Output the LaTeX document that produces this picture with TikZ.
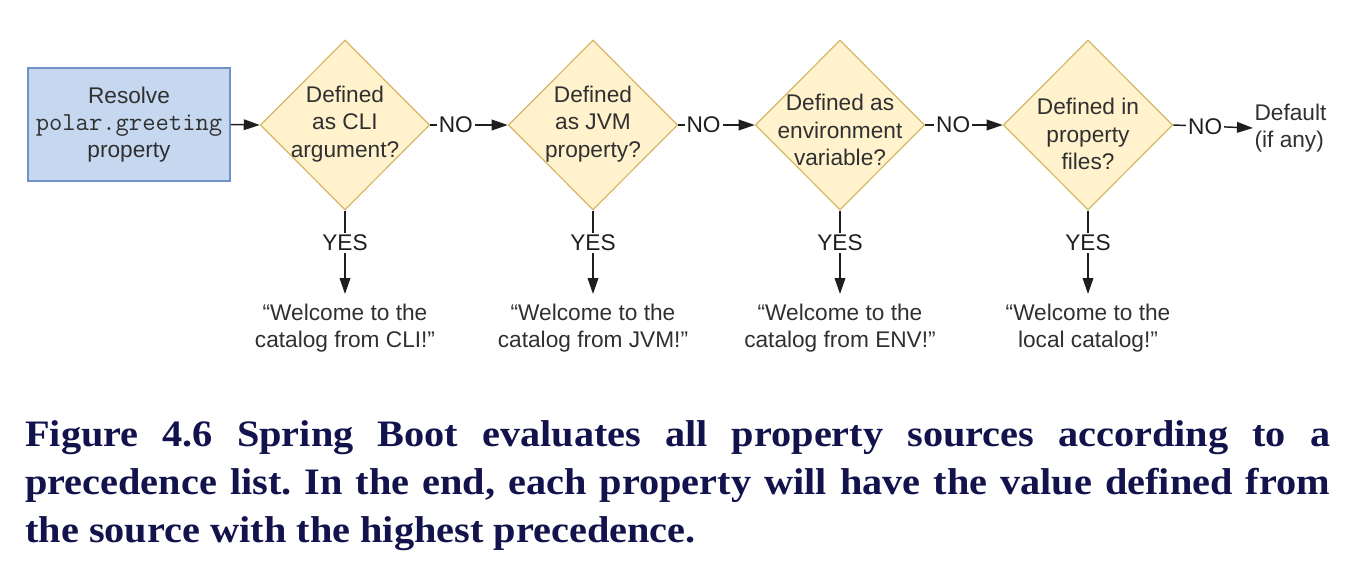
\documentclass[tikz,border=0pt]{standalone}
\usepackage{fontspec}
\setmainfont{Liberation Serif}
\setsansfont{Liberation Sans}
\newfontfamily\captionfont[FakeStretch=1.08]{Liberation Serif}
\usetikzlibrary{arrows.meta,shapes.geometric}
\definecolor{boxFill}{RGB}{198, 216, 240}
\definecolor{boxLine}{RGB}{112, 146, 200}
\definecolor{decFill}{RGB}{255, 242, 204}
\definecolor{decLine}{RGB}{214, 184, 102}
\definecolor{textCol}{RGB}{48, 48, 48}
\definecolor{arrowCol}{RGB}{30, 30, 30}
\definecolor{captionCol}{RGB}{18, 18, 76}
\newcommand{\propname}[1]{{\ttfamily\fontsize{19.4}{20.5}\selectfont #1}}

\begin{document}
\begin{tikzpicture}[
    x=0.75pt, y=-0.75pt,
    font=\sffamily\fontsize{17}{20.5}\selectfont,
    startBox/.style={draw=boxLine, fill=boxFill, line width=0.9pt,
        minimum width=151.5pt, minimum height=84.75pt, inner sep=0pt,
        align=center, text=textCol},
    decision/.style={diamond, draw=decLine, fill=decFill, line width=0.9pt,
        minimum width=127pt, minimum height=127.5pt, inner sep=0pt},
    decText/.style={align=center, text=textCol, inner sep=0pt},
    msgText/.style={align=center, text=textCol, inner sep=0pt, inner ysep=7pt},
    flowArrow/.style={-{Triangle[length=12pt, width=8pt]}, line width=1.1pt, draw=arrowCol},
    edgeLabel/.style={fill=white, inner sep=1.5pt, text=arrowCol}
]

    \useasboundingbox (0,0) rectangle (1354,572);

    % ---------------- start box ----------------
    \node[startBox] (start) at (129,124.5)
        {Resolve\\\propname{polar.greeting}\\property};

    % ---------------- decisions ----------------
    \node[decision] (cli) at (345,125) {};
    \node[decision] (jvm) at (593,125) {};
    \node[decision] (env) at (840,125) {};
    \node[decision] (file) at (1088,125) {};

    \node[decText] (cliTxt) at (345,124) {Defined\\as CLI\\argument?};
    \node[decText] (jvmTxt) at (593,124) {Defined\\as JVM\\property?};
    \node[decText] (envTxt) at (840,130) {Defined as\\environment\\variable?};
    \node[decText] (fileTxt) at (1088,134) {Defined in\\property\\files?};

    \node[anchor=west, align=left, text=textCol, inner sep=1pt] (dflt) at (1253,128)
        {Default\\(if any)};

    % ---------------- messages ----------------
    \node[msgText, anchor=north] (cliMsg) at (345,294)
        {``Welcome to the\\catalog from CLI!''};
    \node[msgText, anchor=north] (jvmMsg) at (593,294)
        {``Welcome to the\\catalog from JVM!''};
    \node[msgText, anchor=north] (envMsg) at (840,294)
        {``Welcome to the\\catalog from ENV!''};
    \node[msgText, anchor=north] (fileMsg) at (1088,294)
        {``Welcome to the\\local catalog!''};

    % ---------------- NO chain ----------------
    \draw[flowArrow] (start.east) -- (cli.west);
    \draw[flowArrow] (cli.east) -- node[edgeLabel, pos=0.33] {NO} (jvm.west);
    \draw[flowArrow] (jvm.east) -- node[edgeLabel, pos=0.33] {NO} (env.west);
    \draw[flowArrow] (env.east) -- node[edgeLabel, pos=0.36] {NO} (file.west);
    \draw[flowArrow] (file.east) -- node[edgeLabel, pos=0.4] {NO} (dflt.west);

    % ---------------- YES branches ----------------
    \foreach \dec/\msg in {cli/cliMsg, jvm/jvmMsg, env/envMsg, file/fileMsg} {
        \draw[flowArrow] (\dec.south) -- node[edgeLabel, pos=0.39] {YES} (\msg.north);
    }

    % ---------------- caption ----------------
    \node[anchor=north west, text width=978.75pt, align=justify, inner sep=0pt,
        text=captionCol, font=\captionfont\bfseries\fontsize{28}{36}\selectfont]
        (caption) at (25,420)
        {\frenchspacing\tolerance=9999\hbadness=10000
        Figure 4.6 Spring Boot evaluates all property sources according to a\linebreak
        precedence list. In the end, each property will have the value defined from\linebreak
        the source with the highest precedence.};

\end{tikzpicture}
\end{document}
